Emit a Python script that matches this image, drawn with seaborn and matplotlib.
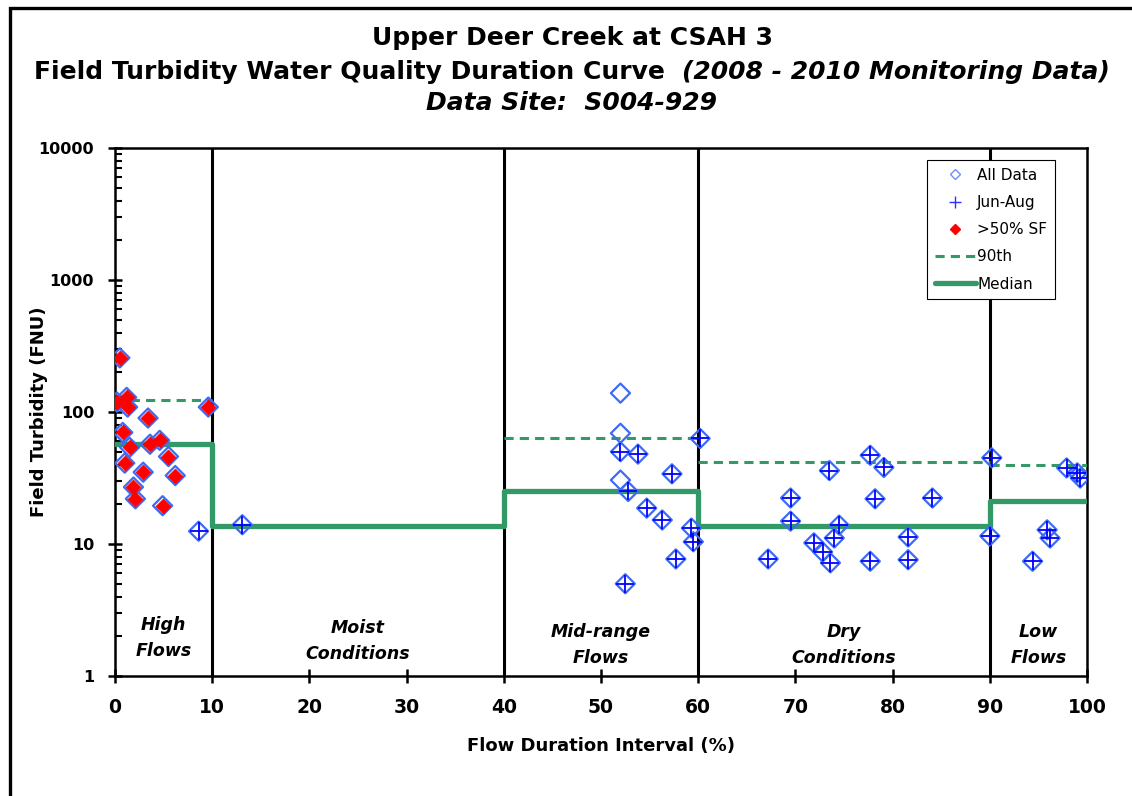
import numpy as np
import pandas as pd
import matplotlib
matplotlib.use("Agg")
import matplotlib.pyplot as plt
from matplotlib.lines import Line2D
from matplotlib.patches import Rectangle
import seaborn as sns

# sample data: flow duration interval (%) and turbidity (FNU)
sf_flow = [0.5, 0.2, 1.2, 1.3, 3.4, 9.6, 0.8, 1.5, 3.6, 4.6, 5.5, 1.0, 2.9, 6.2, 1.9, 2.1, 4.9]
sf_turb = [257, 119, 129, 109, 90, 109, 70, 54, 57, 61, 46, 41, 35, 33, 27, 22, 19.5]

other_flow = [52.0, 52.0, 52.0]
other_turb = [139, 69, 30.5]

summer_flow = [8.6, 13.1,
               60.2, 52.0, 53.8, 57.3, 52.8, 54.7, 56.3, 59.3, 59.5, 57.7, 52.5,
               77.7, 79.1, 73.5, 69.5, 78.2, 84.1, 69.5, 74.5, 74.0, 81.6, 71.9, 72.8,
               67.2, 73.6, 77.7, 81.6,
               90.2, 97.9, 99.0, 99.3, 90.0, 95.9, 96.2, 94.4]
summer_turb = [12.5, 14,
               63, 50, 48, 34, 25, 18.7, 15.2, 13.2, 10.4, 7.7, 5.0,
               47, 38, 36, 22.3, 22, 22.3, 14.9, 13.9, 11.1, 11.3, 10.2, 8.7,
               7.7, 7.2, 7.4, 7.6,
               45, 37.7, 34.6, 31.6, 11.5, 12.8, 11.1, 7.4]

# flow zones and their statistics
zone_edges = [0, 10, 40, 60, 90, 100]
zone_names = ["High\nFlows", "Moist\nConditions", "Mid-range\nFlows", "Dry\nConditions", "Low\nFlows"]
zone_label_y = [1.94, 1.84, 1.72, 1.72, 1.72]
zone_median = [57.3, 13.7, 25.2, 13.8, 21.2]
zone_p90 = [123, np.nan, 63.5, 41.5, 39.5]

GREEN = "#339966"
DIAMOND = "#3d6bf5"

all_df = pd.DataFrame({"flow": sf_flow + other_flow + summer_flow,
                       "turb": sf_turb + other_turb + summer_turb})
summer_df = pd.DataFrame({"flow": summer_flow, "turb": summer_turb})
sf_df = pd.DataFrame({"flow": sf_flow, "turb": sf_turb})

sns.set_style("white")
plt.rcParams["font.family"] = ["DejaVu Sans"]
plt.rcParams.update({"text.color": "black", "axes.labelcolor": "black",
                     "xtick.color": "black", "ytick.color": "black"})

fig = plt.figure(figsize=(11.32, 7.96), dpi=100)
ax = fig.add_axes([115 / 1132, 1 - 676 / 796, 972 / 1132, 528 / 796])
ax.set_yscale("log")

# zone separators
for xe in zone_edges[1:-1]:
    ax.axvline(xe, color="black", lw=2.2, zorder=2)

# median step line
med_df = pd.DataFrame({"flow": zone_edges, "turb": zone_median + [zone_median[-1]]})
sns.lineplot(data=med_df, x="flow", y="turb", drawstyle="steps-post", estimator=None,
             sort=False, color=GREEN, lw=3.8, ax=ax, zorder=3)

# 90th percentile segments
for i, v in enumerate(zone_p90):
    if not np.isnan(v):
        ax.hlines(v, zone_edges[i], zone_edges[i + 1], colors=GREEN, lw=2.2,
                  linestyles=(0, (3, 2)), zorder=3)

sns.scatterplot(data=all_df, x="flow", y="turb", marker="D", s=95, facecolors="none",
                edgecolor=DIAMOND, linewidth=1.6, ax=ax, zorder=4)
sns.scatterplot(data=summer_df, x="flow", y="turb", marker="+", s=185, color="#0000ff",
                linewidth=1.3, ax=ax, zorder=5)
sns.scatterplot(data=sf_df, x="flow", y="turb", marker="D", s=58, color="#ff0000",
                edgecolor="#ff0000", linewidth=0.5, ax=ax, zorder=6)

# zone labels
for i, name in enumerate(zone_names):
    xc = (zone_edges[i] + zone_edges[i + 1]) / 2
    ax.text(xc, zone_label_y[i], name, ha="center", va="center",
            fontsize=12.5, fontweight="bold", style="italic", linespacing=1.55)

ax.set_xlim(0, 100)
ax.set_ylim(1, 10000)
ax.set_xticks(range(0, 101, 10))
ax.set_yticks([1, 10, 100, 1000, 10000])
ax.set_yticklabels(["1", "10", "100", "1000", "10000"])
ax.tick_params(axis="both", which="major", direction="inout", length=10, width=1.8,
               bottom=True, left=True, color="black")
ax.tick_params(axis="x", labelsize=13.5, pad=11)
ax.tick_params(axis="y", labelsize=11.5, pad=10)
ax.tick_params(axis="y", which="minor", direction="in", length=5, width=1.5, left=True)
for lab in ax.get_xticklabels() + ax.get_yticklabels():
    lab.set_fontweight("bold")
for sp in ax.spines.values():
    sp.set_color("black")
    sp.set_linewidth(1.8)

ax.set_xlabel("Flow Duration Interval (%)", fontsize=13, fontweight="bold", labelpad=14)
ax.set_ylabel("Field Turbidity (FNU)", fontsize=13, fontweight="bold")
ax.yaxis.set_label_coords((48 - 115) / 972, 0.5)

handles = [
    Line2D([], [], ls="none", marker="D", ms=5, mfc="none", mec="#6f8ff5", mew=1.0),
    Line2D([], [], ls="none", marker="+", ms=9, mec="#3030ff", mew=1.0),
    Line2D([], [], ls="none", marker="D", ms=5, mfc="#ff0000", mec="#ff0000"),
    Line2D([], [], color=GREEN, lw=2.2, ls=(0, (3, 2))),
    Line2D([], [], color=GREEN, lw=3.8),
]
leg = ax.legend(handles, ["All Data", "Jun-Aug", ">50% SF", "90th", "Median"],
                loc="upper right", bbox_to_anchor=(0.967, 0.977), borderaxespad=0,
                fontsize=11, frameon=True, fancybox=False, edgecolor="black",
                framealpha=1, handlelength=2.7, handletextpad=0.1, labelspacing=0.8,
                borderpad=0.5)
leg.get_frame().set_linewidth(0.8)
leg.set_zorder(10)

# title
cx = 572 / 1132
fig.text(cx, 1 - 38 / 796, "Upper Deer Creek at CSAH 3", ha="center", va="center",
         fontsize=18, fontweight="bold")
t_a = fig.text(0, 1 - 72 / 796, "Field Turbidity Water Quality Duration Curve  ",
               ha="left", va="center", fontsize=18, fontweight="bold")
t_b = fig.text(0, 1 - 72 / 796, "(2008 - 2010 Monitoring Data)", ha="left", va="center",
               fontsize=18, fontweight="bold", style="italic")
fig.text(cx, 1 - 103 / 796, "Data Site:  S004-929", ha="center", va="center",
         fontsize=18, fontweight="bold", style="italic")
fig.canvas.draw()
r = fig.canvas.get_renderer()
wa = t_a.get_window_extent(r).width / fig.bbox.width
wb = t_b.get_window_extent(r).width / fig.bbox.width
x0 = cx - (wa + wb) / 2
t_a.set_x(x0)
t_b.set_x(x0 + wa)

# chart area border (left and top only visible)
fig.patches.append(Rectangle((10 / 1132, -0.5), 1.5, 0.5 + 1 - 8 / 796,
                             transform=fig.transFigure, fill=False, lw=2.4,
                             edgecolor="black", clip_on=False))

fig.savefig("out.png", dpi=100)
